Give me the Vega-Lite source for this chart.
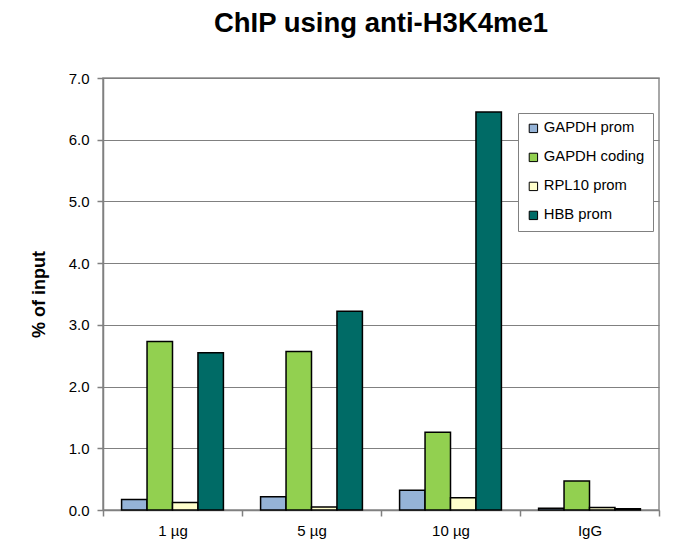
{
  "$schema": "https://vega.github.io/schema/vega-lite/v6.json",
  "width": 556,
  "height": 432,
  "autosize": {"type": "none"},
  "padding": {"left": 103, "top": 78, "right": 14, "bottom": 35},
  "background": "white",
  "title": {
    "text": "ChIP using anti-H3K4me1",
    "font": "Liberation Sans",
    "fontSize": 27.5,
    "fontWeight": "bold",
    "color": "black",
    "anchor": "middle",
    "offset": 34
  },
  "config": {
    "font": "Liberation Sans",
    "view": {"stroke": "#8c8c8c", "strokeWidth": 1.5}
  },
  "data": {
    "values": [
      {"dose": "1 µg", "target": "GAPDH prom", "value": 0.17},
      {"dose": "1 µg", "target": "GAPDH coding", "value": 2.73},
      {"dose": "1 µg", "target": "RPL10 prom", "value": 0.12},
      {"dose": "1 µg", "target": "HBB prom", "value": 2.55},
      {"dose": "5 µg", "target": "GAPDH prom", "value": 0.215},
      {"dose": "5 µg", "target": "GAPDH coding", "value": 2.57},
      {"dose": "5 µg", "target": "RPL10 prom", "value": 0.05},
      {"dose": "5 µg", "target": "HBB prom", "value": 3.22},
      {"dose": "10 µg", "target": "GAPDH prom", "value": 0.32},
      {"dose": "10 µg", "target": "GAPDH coding", "value": 1.26},
      {"dose": "10 µg", "target": "RPL10 prom", "value": 0.2},
      {"dose": "10 µg", "target": "HBB prom", "value": 6.45},
      {"dose": "IgG", "target": "GAPDH prom", "value": 0.03},
      {"dose": "IgG", "target": "GAPDH coding", "value": 0.47},
      {"dose": "IgG", "target": "RPL10 prom", "value": 0.04},
      {"dose": "IgG", "target": "HBB prom", "value": 0.02}
    ]
  },
  "mark": {"type": "bar", "stroke": "black", "strokeWidth": 1.5},
  "encoding": {
    "x": {
      "field": "dose",
      "type": "nominal",
      "sort": ["1 µg", "5 µg", "10 µg", "IgG"],
      "scale": {"paddingInner": 0, "paddingOuter": 0},
      "axis": {
        "title": null,
        "labelAngle": 0,
        "labelFontSize": 15,
        "labelColor": "black",
        "labelPadding": 7,
        "domainColor": "#808080",
        "domainWidth": 1.5,
        "tickColor": "#808080",
        "tickWidth": 1.5,
        "tickSize": 6,
        "tickBand": "extent",
        "grid": false
      }
    },
    "xOffset": {
      "field": "target",
      "type": "nominal",
      "sort": ["GAPDH prom", "GAPDH coding", "RPL10 prom", "HBB prom"],
      "scale": {"paddingInner": 0, "paddingOuter": 0.73}
    },
    "y": {
      "field": "value",
      "type": "quantitative",
      "scale": {"domain": [0, 7], "nice": false},
      "axis": {
        "title": "% of input",
        "titleFontSize": 18,
        "titleFontWeight": "bold",
        "titleColor": "black",
        "titlePadding": 20,
        "values": [0, 1, 2, 3, 4, 5, 6, 7],
        "format": ".1f",
        "labelFontSize": 15,
        "labelColor": "black",
        "labelPadding": 8,
        "domainColor": "#808080",
        "domainWidth": 1.5,
        "tickColor": "#808080",
        "tickWidth": 1.5,
        "tickSize": 6,
        "grid": true,
        "gridColor": "#808080",
        "gridWidth": 1.2
      }
    },
    "color": {
      "field": "target",
      "type": "nominal",
      "scale": {
        "domain": ["GAPDH prom", "GAPDH coding", "RPL10 prom", "HBB prom"],
        "range": ["#95B3D7", "#92D050", "#FFFFCC", "#006B66"]
      },
      "legend": {
        "title": null,
        "orient": "none",
        "legendX": 415,
        "legendY": 35,
        "symbolType": "square",
        "symbolSize": 70,
        "symbolStrokeColor": "black",
        "symbolStrokeWidth": 1,
        "labelFontSize": 14.8,
        "labelColor": "black",
        "rowPadding": 13,
        "padding": 8,
        "strokeColor": "#808080",
        "fillColor": "white",
        "labelOffset": 3
      }
    }
  }
}
